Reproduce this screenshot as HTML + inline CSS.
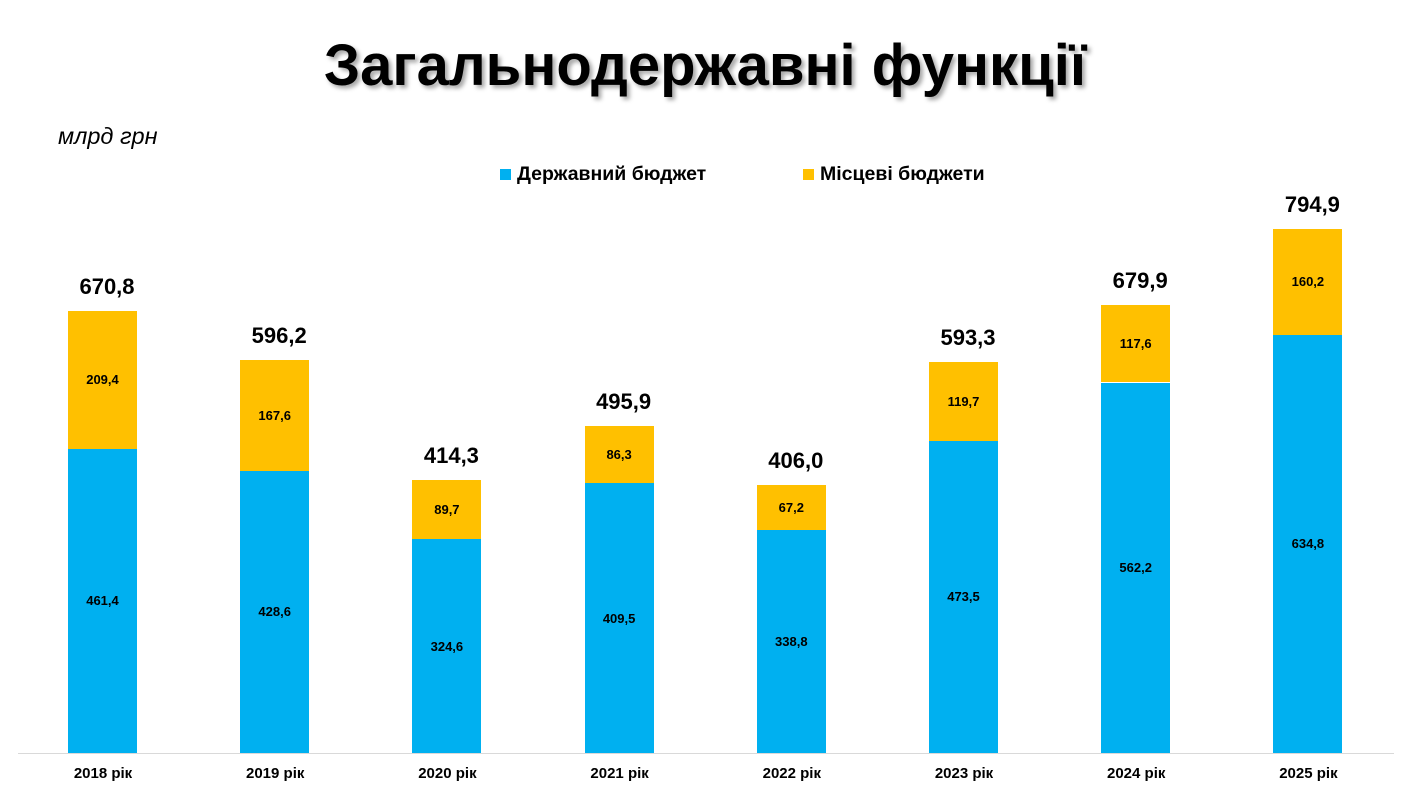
<!DOCTYPE html>
<html><head><meta charset="utf-8"><style>
body{margin:0;width:1410px;height:793px;background:#fff;position:relative;overflow:hidden;font-family:"Liberation Sans",sans-serif}
.t{position:absolute;left:0;width:1410px;top:32px;text-align:center;font-weight:bold;font-size:58px;color:#000;text-shadow:3px 3px 4px rgba(0,0,0,0.35)}
.u{position:absolute;left:58px;top:123px;font-style:italic;font-size:23.5px}
.lg{position:absolute;top:163px;font-size:19.5px;font-weight:bold}
.sq{display:inline-block;width:11px;height:11px;margin-right:6px}
.b{position:absolute;width:69px;display:flex;align-items:center;justify-content:center;font-size:13px;font-weight:bold}
.tot{position:absolute;width:120px;text-align:center;font-size:22px;font-weight:bold}
.x{position:absolute;top:765px;width:120px;text-align:center;font-size:15px;font-weight:bold}
.ax{position:absolute;left:18px;top:753px;width:1376px;height:1px;background:#d9d9d9}
</style></head><body>
<div class="t">Загальнодержавні функції</div>
<div class="u">млрд грн</div>
<div class="lg" style="left:500px"><span class="sq" style="background:#00b0f0"></span>Державний бюджет</div>
<div class="lg" style="left:803px"><span class="sq" style="background:#ffc000"></span>Місцеві бюджети</div>
<div class="ax"></div>
<div id="c"></div>
<script>
var d=[["2018",461.4,209.4,"670,8"],["2019",428.6,167.6,"596,2"],["2020",324.6,89.7,"414,3"],["2021",409.5,86.3,"495,9"],["2022",338.8,67.2,"406,0"],["2023",473.5,119.7,"593,3"],["2024",562.2,117.6,"679,9"],["2025",634.8,160.2,"794,9"]];
var s=0.659,h="",base=753;
d.forEach(function(r,i){var x=68+i*172.2,hb=r[1]*s,hy=r[2]*s;
h+='<div class="b" style="left:'+x+'px;top:'+(base-hb)+'px;height:'+hb+'px;background:#00b0f0">'+r[1].toFixed(1).replace(".",",")+'</div>';
h+='<div class="b" style="left:'+x+'px;top:'+(base-hb-hy)+'px;height:'+hy+'px;background:#ffc000">'+r[2].toFixed(1).replace(".",",")+'</div>';
h+='<div class="tot" style="left:'+(x-21)+'px;top:'+(base-hb-hy-37)+'px">'+r[3]+'</div>';
h+='<div class="x" style="left:'+(x-25)+'px">'+r[0]+' рік</div>';});
document.getElementById("c").innerHTML=h;
</script>
</body></html>
